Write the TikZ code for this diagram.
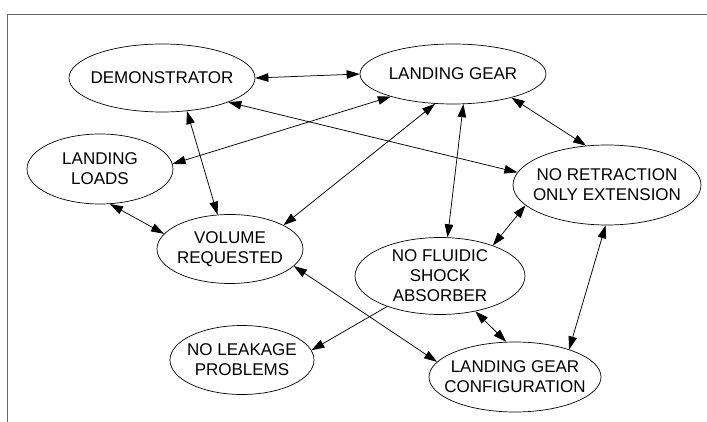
\documentclass[tikz,border=0pt]{standalone}
\usepackage{fontspec}
\setmainfont{Liberation Sans}
\usetikzlibrary{shapes.geometric,arrows.meta}
\begin{document}
\begin{tikzpicture}[x=1pt,y=-1pt,
  el/.style={draw, ellipse, inner sep=0pt, line width=0.7pt},
  lbl/.style={align=center, font=\fontsize{17}{20}\selectfont, inner sep=0pt},
  link/.style={line width=0.75pt, {Triangle[length=13pt,width=8.5pt]}-{Triangle[length=13pt,width=8.5pt]}},
  oneway/.style={line width=0.75pt, -{Triangle[length=13pt,width=8.5pt]}},
  frameline/.style={draw=black!60, line width=1pt}]
\useasboundingbox (0,0) rectangle (707,422);
\coordinate (fa) at (7,422);
\coordinate (fb) at (7,15);
\coordinate (fc) at (707,15);
\draw[frameline] (fa) -- (fb) -- (fc);

\node[el, minimum width=186pt, minimum height=68pt] (demo) at (162,78) {};
\node[lbl] (demo-t) at (demo) {DEMONSTRATOR};
\node[el, minimum width=186pt, minimum height=60pt] (lg) at (453,74) {};
\node[lbl] (lg-t) at (lg) {LANDING GEAR};
\node[el, minimum width=146pt, minimum height=70pt] (loads) at (100,169) {};
\node[lbl] (loads-t) at (loads) {LANDING\\LOADS};
\node[el, minimum width=188pt, minimum height=80pt] (noret) at (607,185) {};
\node[lbl] (noret-t) at (noret) {NO RETRACTION\\ONLY EXTENSION};
\node[el, minimum width=146pt, minimum height=69pt] (vol) at (230,249) {};
\node[lbl] (vol-t) at (vol) {VOLUME\\REQUESTED};
\node[el, minimum width=170pt, minimum height=77pt] (nf) at (440,276) {};
\node[lbl] (nf-t) at (nf) {NO FLUIDIC\\SHOCK\\ABSORBER};
\node[el, minimum width=144pt, minimum height=69pt] (leak) at (242,360) {};
\node[lbl] (leak-t) at (leak) {NO LEAKAGE\\PROBLEMS};
\node[el, minimum width=172pt, minimum height=70pt] (cfg) at (515,377) {};
\node[lbl] (cfg-t) at (cfg) {LANDING GEAR\\CONFIGURATION};

\draw[link] (demo.0) -- (lg.180);
\draw[link] (lg.200) -- (loads.4.6);
\draw[link] (demo.-20.2) -- (noret.172.4);
\draw[link] (demo.-53.7) -- (vol.110.9);
\draw[link] (loads.-74) -- (vol.167.4);
\draw[link] (lg.-121) -- (vol.24.4);
\draw[link] (lg.-71) -- (nf.79.8);
\draw[link] (lg.-22.5) -- (noret.118.8);
\draw[link] (noret.194.2) -- (nf.30.6);
\draw[link] (noret.-92.8) -- (cfg.27.4);
\draw[link] (nf.-45) -- (cfg.104.4);
\draw[link] (vol.-15.5) -- (cfg.169.1);
\draw[oneway] (nf.210.3) -- (leak.8.6);
\end{tikzpicture}
\end{document}
